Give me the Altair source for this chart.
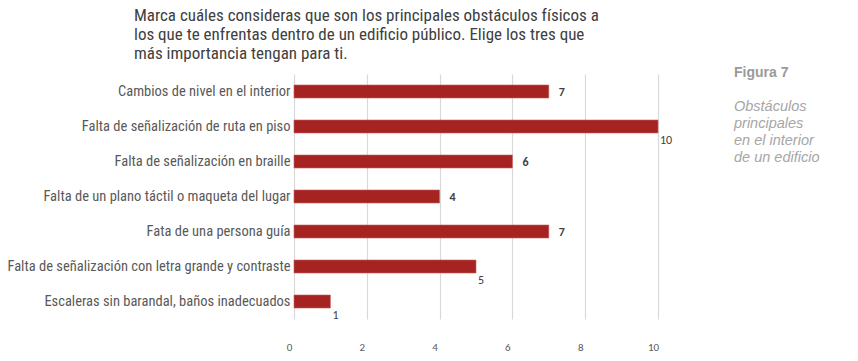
import altair as alt
import pandas as pd

categories = [
    "Cambios de nivel en el interior",
    "Falta de señalización de ruta en piso",
    "Falta de señalización en braille",
    "Falta de un plano táctil o maqueta del lugar",
    "Fata de una persona guía",
    "Falta de señalización con letra grande y contraste",
    "Escaleras sin barandal, baños inadecuados",
]
values = [7, 10, 6, 4, 7, 5, 1]
label_pos = ["right", "below", "right", "right", "right", "below", "below"]

title_lines = [
    "Marca cuáles consideras que son los principales obstáculos físicos a",
    "los que te enfrentas dentro de un edificio público. Elige los tres que",
    "más importancia tengan para ti.",
]
fig_label = "Figura 7"
fig_caption = "Obstáculos\nprincipales\nen el interior\nde un edificio"

df = pd.DataFrame({"cat": categories, "val": values, "pos": label_pos})

COND = "Liberation Sans Narrow, Roboto Condensed, Roboto"

base = alt.Chart(df).encode(
    y=alt.Y(
        "cat:N",
        sort=categories,
        title=None,
        axis=alt.Axis(
            labelFont=COND,
            labelFontSize=14.5,
            labelColor="#595959",
            labelPadding=4,
            ticks=False,
            domain=False,
            labelLimit=400,
        ),
    ),
    x=alt.X(
        "val:Q",
        title=None,
        scale=alt.Scale(domain=[0, 10], nice=False),
        axis=alt.Axis(
            values=[0, 2, 4, 6, 8, 10],
            labelFont="Carlito, Open Sans, Liberation Sans",
            labelFontSize=11,
            labelColor="#595959",
            labelPadding=22,
            labelOffset=-5,
            labelFlush=False,
            ticks=False,
            domain=False,
            grid=True,
            gridColor="#d9d9d9",
            gridWidth=1.2,
        ),
    ),
)

bars = base.mark_bar(size=13, color="#A52422", stroke="#C9605C", strokeWidth=0.6)

right_labels = base.transform_filter(alt.datum.pos == "right").mark_text(
    align="left", baseline="middle", dx=10, fontSize=12, fontWeight="bold",
    color="#404040", font="Carlito, Open Sans, Liberation Sans",
).encode(text="val:Q")

below_labels = base.transform_filter(alt.datum.pos == "below").mark_text(
    align="left", baseline="middle", dx=2, dy=13, fontSize=12,
    color="#404040", font="Carlito, Open Sans, Liberation Sans",
).encode(text="val:Q")

side_df = pd.DataFrame({"t": [fig_label]})
fig_text = alt.Chart(side_df).mark_text(
    align="left", baseline="alphabetic", fontSize=14, fontWeight="bold",
    color="#9a9a9a", font="Liberation Sans",
).encode(x=alt.value(440), y=alt.value(3), text="t:N")

cap_df = pd.DataFrame({"t": [fig_caption]})
cap_text = alt.Chart(cap_df).mark_text(
    align="left", baseline="alphabetic", fontSize=14.5, fontStyle="italic",
    color="#a6a6a6", font="Liberation Sans", lineBreak="\n", lineHeight=17,
).encode(x=alt.value(440), y=alt.value(37), text="t:N")

chart = alt.layer(bars, right_labels, below_labels, fig_text, cap_text).properties(
    width=364,
    height=245,
    autosize=alt.AutoSizeParams(type="none"),
    padding={"left": 286, "top": 66, "right": 192, "bottom": 34},
    title=alt.TitleParams(
        text=title_lines,
        anchor="start",
        frame="group",
        dx=-160,
        offset=3,
        font=COND,
        fontSize=17,
        fontWeight="normal",
        color="#404040",
        lineHeight=19,
    ),
).configure_view(stroke=None)

chart.save("out.html", embed_options={"renderer": "svg", "actions": False})
